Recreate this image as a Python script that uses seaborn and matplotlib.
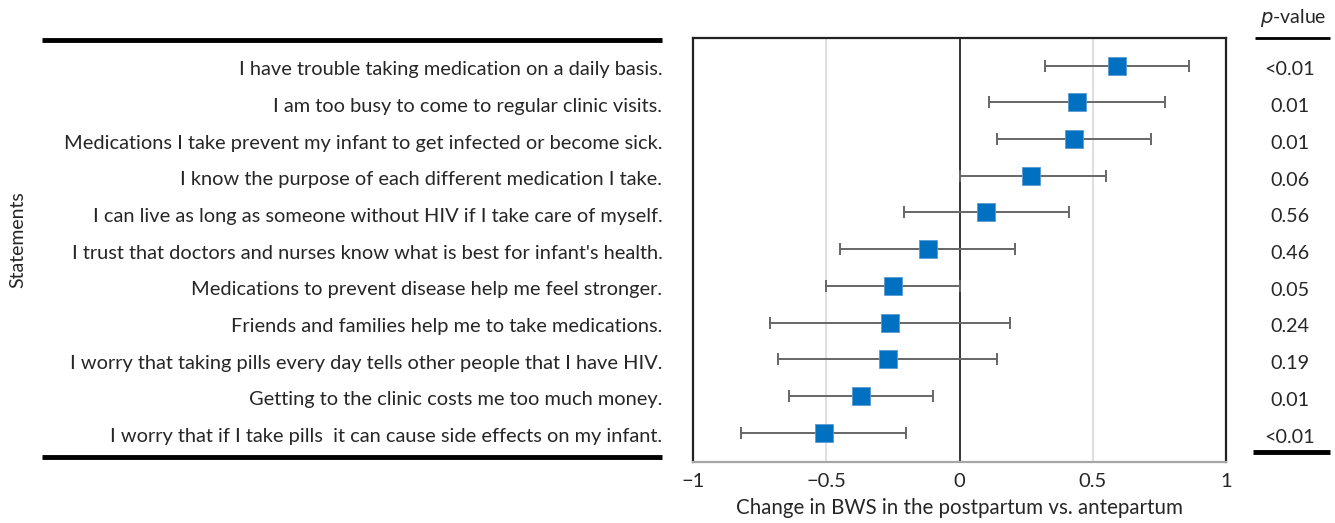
import matplotlib
matplotlib.use("Agg")
import matplotlib.pyplot as plt
import matplotlib.transforms as mtransforms
from matplotlib.lines import Line2D
import numpy as np
import pandas as pd
import seaborn as sns

statements = [
    "I have trouble taking medication on a daily basis.",
    "I am too busy to come to regular clinic visits.",
    "Medications I take prevent my infant to get infected or become sick.",
    "I know the purpose of each different medication I take.",
    "I can live as long as someone without HIV if I take care of myself.",
    "I trust that doctors and nurses know what is best for infant's health.",
    "Medications to prevent disease help me feel stronger.",
    "Friends and families help me to take medications.",
    "I worry that taking pills every day tells other people that I have HIV.",
    "Getting to the clinic costs me too much money.",
    "I worry that if I take pills  it can cause side effects on my infant.",
]
estimate = [0.59, 0.44, 0.43, 0.27, 0.10, -0.12, -0.25, -0.26, -0.27, -0.37, -0.51]
ci_low = [0.32, 0.11, 0.14, 0.00, -0.21, -0.45, -0.50, -0.71, -0.68, -0.64, -0.82]
ci_high = [0.86, 0.77, 0.72, 0.55, 0.41, 0.21, 0.00, 0.19, 0.14, -0.10, -0.20]
p_values = ["<0.01", "0.01", "0.01", "0.06", "0.56", "0.46", "0.05", "0.24", "0.19", "0.01", "<0.01"]
x_ticks = [-1, -0.5, 0, 0.5, 1]
x_tick_labels = ["\u22121", "\u22120.5", "0", "0.5", "1"]

sns.set_style("white")
plt.rcParams["font.family"] = ["Lato", "DejaVu Sans"]

df = pd.DataFrame({"statement": statements, "est": estimate,
                   "lo": ci_low, "hi": ci_high, "p": p_values})
df["row"] = np.arange(len(df))

W, H = 1335, 523
fig = plt.figure(figsize=(W / 100, H / 100), dpi=100)
ax = fig.add_axes([693 / W, 1 - 462 / H, (1226 - 693) / W, (462 - 38) / H])

# grid & zero line
for g in [-0.5, 0.5]:
    ax.axvline(g, color="#d9d9d9", lw=1.2, zorder=0)
ax.axvline(0, color="black", lw=1.1, zorder=1)

# error bars
ax.errorbar(df["est"], df["row"],
            xerr=[df["est"] - df["lo"], df["hi"] - df["est"]],
            fmt="none", ecolor="#666666", elinewidth=1.4, capsize=4.5, capthick=1.4, zorder=2)

sns.scatterplot(data=df, x="est", y="row", marker="s", s=185, color="#0070C0",
                edgecolor="#5b9bd5", linewidth=0.6, ax=ax, zorder=3, legend=False)

ax.set_xlim(-1, 1)
ax.set_ylim(10.8, -0.75)
ax.set_xticks(x_ticks)
ax.set_xticklabels(x_tick_labels, fontsize=14.5)
ax.set_yticks(df["row"] + 0.07)
ax.set_yticklabels(df["statement"], fontsize=14.4)
ax.tick_params(axis="y", length=0, pad=22)
ax.tick_params(axis="x", length=3, color="#888888", pad=5)
ax.set_xlabel("Change in BWS in the postpartum vs. antepartum", fontsize=14.8, labelpad=6)
ax.set_ylabel("")

for s in ["left", "top", "right"]:
    ax.spines[s].set_color("#222222")
    ax.spines[s].set_linewidth(1.6)
ax.spines["bottom"].set_color("#a6a6a6")
ax.spines["bottom"].set_linewidth(1.6)

fig.text(18 / W, 1 - 240 / H, "Statements", rotation=90, ha="center", va="center", fontsize=14)

# table rules
kw = dict(color="black", solid_capstyle="butt")
fig.add_artist(Line2D([42 / W, 662 / W], [1 - 40 / H] * 2, lw=3.5, **kw))
fig.add_artist(Line2D([42 / W, 662 / W], [1 - 457 / H] * 2, lw=3.5, **kw))
fig.add_artist(Line2D([1255 / W, 1330 / W], [1 - 38 / H] * 2, lw=2, **kw))
fig.add_artist(Line2D([1253 / W, 1330 / W], [1 - 452 / H] * 2, lw=3.5, **kw))

# p-values
trans = mtransforms.blended_transform_factory(fig.transFigure, ax.transData)
for r, p in zip(df["row"], df["p"]):
    ax.text(1290 / W, r + 0.12, p, transform=trans, ha="center", va="center",
            fontsize=14.2, clip_on=False)
fig.text(1293 / W, 1 - 18 / H, r"$\it{p}$-value", ha="center", va="center", fontsize=14)

fig.savefig("out.png", dpi=100)
